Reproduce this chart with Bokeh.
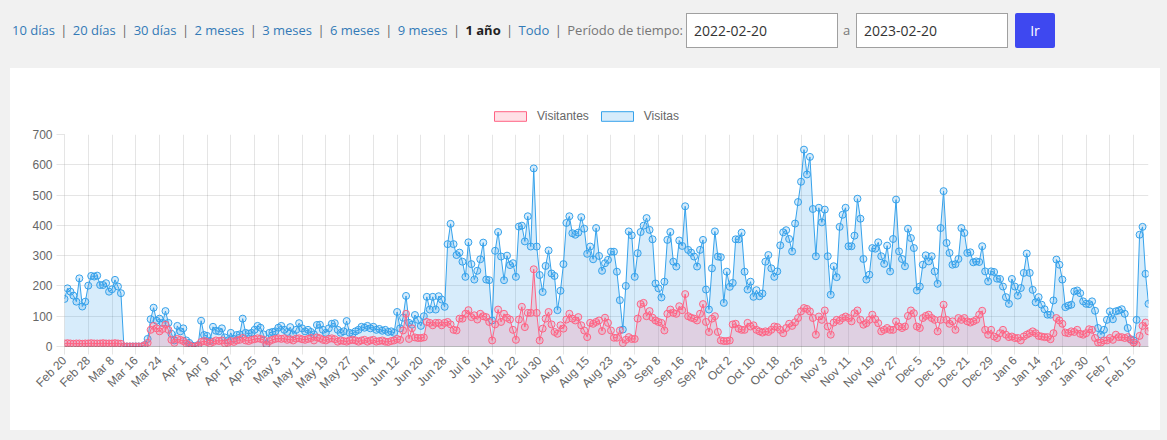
import math
from bokeh.plotting import figure
from bokeh.models import FixedTicker, Legend, LegendItem, Div, ColumnDataSource
from bokeh.layouts import column
from bokeh.embed import file_html
from bokeh.resources import INLINE

# ---------------- data ----------------
tick_labels = ["Feb 20", "Feb 28", "Mar 8", "Mar 16", "Mar 24", "Apr 1", "Apr 9", "Apr 17",
               "Apr 25", "May 3", "May 11", "May 19", "May 27", "Jun 4", "Jun 12", "Jun 20",
               "Jun 28", "Jul 6", "Jul 14", "Jul 22", "Jul 30", "Aug 7", "Aug 15", "Aug 23",
               "Aug 31", "Sep 8", "Sep 16", "Sep 24", "Oct 2", "Oct 10", "Oct 18", "Oct 26",
               "Nov 3", "Nov 11", "Nov 19", "Nov 27", "Dec 5", "Dec 13", "Dec 21", "Dec 29",
               "Jan 6", "Jan 14", "Jan 22", "Jan 30", "Feb 7", "Feb 15"]

visitas = [
    157, 192, 181, 168, 148, 225, 132, 148,
    201, 233, 231, 234, 203, 203, 209, 181,
    189, 220, 198, 176, 0, 0, 0, 0,
    0, 0, 0, 5, 25, 90, 128, 85,
    92, 78, 117, 78, 42, 20, 68, 50,
    60, 20, 12, 3, 0, 5, 85, 38,
    35, 18, 65, 52, 50, 60, 30, 20,
    45, 25, 38, 40, 92, 45, 42, 45,
    55, 68, 62, 40, 8, 45, 48, 50,
    62, 68, 55, 48, 64, 40, 55, 77,
    60, 50, 55, 48, 40, 71, 72, 55,
    45, 60, 75, 77, 55, 45, 50, 84,
    45, 42, 50, 55, 65, 62, 68, 60,
    65, 55, 58, 52, 55, 48, 50, 45,
    114, 60, 95, 167, 78, 72, 104, 88,
    68, 100, 164, 122, 164, 122, 166, 155,
    131, 338, 405, 338, 302, 310, 280, 230,
    344, 272, 221, 250, 288, 343, 221, 219,
    86, 316, 378, 297, 219, 300, 269, 275,
    230, 396, 399, 347, 430, 330, 588, 330,
    236, 180, 266, 317, 241, 233, 120, 184,
    272, 408, 430, 374, 369, 376, 427, 389,
    306, 330, 288, 391, 299, 250, 275, 286,
    313, 313, 247, 153, 56, 200, 380, 367,
    230, 308, 378, 399, 424, 385, 354, 208,
    192, 162, 214, 352, 378, 280, 264, 350,
    332, 463, 319, 310, 297, 264, 319, 352,
    188, 122, 258, 380, 297, 295, 144, 247,
    197, 210, 354, 354, 376, 247, 188, 214,
    164, 186, 166, 175, 280, 302, 258, 230,
    248, 334, 377, 384, 355, 314, 406, 477,
    544, 650, 568, 626, 454, 298, 458, 410,
    452, 298, 171, 265, 229, 395, 435, 458,
    331, 331, 366, 488, 422, 289, 221, 237,
    325, 323, 344, 298, 273, 333, 248, 355,
    485, 314, 289, 265, 389, 358, 325, 185,
    198, 270, 301, 281, 298, 248, 207, 391,
    513, 342, 309, 270, 272, 289, 391, 375,
    309, 311, 278, 281, 279, 331, 248, 215,
    248, 246, 224, 223, 198, 163, 141, 223,
    198, 168, 193, 243, 307, 243, 187, 146,
    163, 138, 123, 105, 105, 152, 287, 270,
    221, 130, 135, 138, 182, 185, 176, 149,
    141, 140, 149, 118, 61, 39, 55, 88,
    116, 90, 116, 119, 123, 108, 61, 24,
    20, 88, 369, 395, 240, 141,
]

visitantes = [
    10, 11, 10, 9, 10, 10, 9, 10,
    10, 11, 10, 10, 10, 11, 10, 10,
    10, 11, 10, 9, 0, 0, 0, 0,
    0, 0, 0, 4, 12, 55, 68, 60,
    50, 58, 72, 55, 22, 12, 25, 22,
    18, 10, 5, 0, 0, 3, 15, 18,
    15, 10, 15, 20, 18, 20, 10, 12,
    18, 15, 20, 22, 28, 20, 18, 22,
    24, 27, 25, 22, 5, 18, 22, 25,
    27, 25, 27, 22, 24, 20, 26, 27,
    24, 22, 25, 28, 20, 30, 27, 22,
    20, 25, 27, 24, 16, 20, 18, 16,
    20, 22, 20, 16, 20, 22, 16, 20,
    22, 16, 18, 20, 16, 15, 18, 20,
    25, 22, 53, 108, 25, 60, 30, 28,
    28, 30, 81, 78, 70, 78, 78, 70,
    78, 81, 73, 55, 53, 92, 92, 108,
    120, 97, 103, 89, 108, 100, 97, 81,
    20, 73, 122, 81, 108, 95, 89, 55,
    22, 89, 131, 64, 111, 111, 255, 111,
    20, 59, 92, 114, 73, 48, 42, 70,
    59, 89, 108, 92, 86, 97, 70, 53,
    31, 78, 75, 81, 86, 51, 95, 78,
    53, 29, 29, 53, 11, 22, 31, 25,
    25, 92, 140, 144, 100, 117, 95, 86,
    81, 78, 53, 108, 122, 111, 108, 133,
    120, 173, 100, 95, 92, 86, 108, 140,
    81, 48, 92, 100, 48, 20, 18, 18,
    20, 73, 75, 59, 55, 55, 78, 66,
    70, 55, 50, 46, 50, 48, 55, 66,
    64, 55, 44, 61, 75, 68, 80, 94,
    116, 127, 124, 116, 94, 39, 99, 88,
    119, 66, 39, 79, 88, 85, 94, 99,
    94, 83, 110, 119, 88, 72, 77, 88,
    105, 90, 77, 50, 55, 61, 55, 55,
    83, 66, 61, 66, 101, 119, 110, 66,
    61, 94, 101, 105, 94, 88, 50, 88,
    138, 88, 75, 83, 55, 94, 88, 94,
    83, 79, 83, 88, 105, 118, 55, 39,
    55, 33, 28, 44, 55, 39, 31, 33,
    28, 28, 20, 33, 39, 44, 50, 44,
    35, 33, 31, 31, 24, 44, 94, 86,
    75, 46, 44, 50, 48, 55, 42, 39,
    44, 57, 55, 28, 13, 13, 20, 20,
    28, 22, 39, 31, 31, 28, 31, 22,
    13, 6, 35, 68, 79, 50,
]

series_names = ["Visitantes", "Visitas"]

n = len(visitas)
assert n == 366 and len(visitantes) == 366
idx = list(range(n))
src = ColumnDataSource(dict(x=idx, visitas=visitas, visitantes=visitantes, zero=[0] * n))

BLUE = (54, 162, 235)
PINK = (255, 99, 132)
BLUE_F = (54, 162, 235, 0.2)
PINK_F = (255, 99, 132, 0.2)
GRID = (0, 0, 0, 0.1)
FONT = "Liberation Sans"
BG = "#f1f1f1"

# ---------------- header ----------------
links = ["10 días", "20 días", "30 días", "2 meses", "3 meses", "6 meses", "9 meses", "1 año", "Todo"]
parts = []
for lab in links:
    if lab == "1 año":
        parts.append('<span style="color:#222;font-weight:bold;">%s</span>' % lab)
    else:
        parts.append('<span style="color:#337ab7;">%s</span>' % lab)
sep = '<span style="color:#666;margin:0 2px;"> | </span>'
links_html = sep.join(parts) + sep + '<span style="color:#777;">Período de tiempo:</span>'

box_css = ("position:absolute;top:13px;height:35px;width:152px;border:1px solid #a0a0a0;background:#fff;"
           "font-size:14px;line-height:33px;color:#333;padding-left:7px;box-sizing:border-box;")
header_html = (
    '<div style="position:relative;width:1167px;height:68px;font-family:\'Open Sans\';font-size:13px;">'
    '<div style="position:absolute;left:12px;top:13px;height:35px;line-height:35px;white-space:nowrap;">%s</div>'
    '<div style="%sleft:686px;">2022-02-20</div>'
    '<div style="position:absolute;left:843px;top:13px;height:35px;line-height:35px;color:#777;">a</div>'
    '<div style="%sleft:856px;">2023-02-20</div>'
    '<div style="position:absolute;left:1015px;top:13px;width:40px;height:35px;line-height:35px;'
    'background:#3e48f0;color:#fff;text-align:center;font-size:14px;border-radius:2px;">Ir</div>'
    '</div>' % (links_html, box_css, box_css)
)
header = Div(text=header_html, width=1167, height=68,
             styles={"background-color": BG, "margin": "0", "padding": "0"})

# ---------------- legend row ----------------
lf = figure(width=1150, height=56, x_range=(0, 1), y_range=(0, 1),
            x_axis_type=None, y_axis_type=None, output_backend="svg", toolbar_location=None,
            min_border=0, margin=(0, 7, 0, 10), styles={"background-color": "white"})
lf.outline_line_color = None
lf.background_fill_color = "white"
lf.border_fill_color = "white"
# proxy glyphs placed outside the visible range (only used for the legend swatches)
lg_src = ColumnDataSource(dict(l=[5], r=[6], b=[5], t=[6]))
q_pink = lf.quad(left="l", right="r", bottom="b", top="t", source=lg_src,
                 fill_color=PINK_F, line_color=PINK, line_width=1)
q_blue = lf.quad(left="l", right="r", bottom="b", top="t", source=lg_src,
                 fill_color=BLUE_F, line_color=BLUE, line_width=1)
legend = Legend(items=[LegendItem(label=series_names[0], renderers=[q_pink]),
                       LegendItem(label=series_names[1], renderers=[q_blue])],
                orientation="horizontal", location=(426, 1),
                glyph_width=40, glyph_height=12, label_height=12,
                label_standoff=7, spacing=8, padding=0, margin=0,
                label_text_font=FONT, label_text_font_size="12px",
                label_text_color="#666666",
                border_line_color=None, background_fill_alpha=0)
lf.add_layout(legend, "center")

# ---------------- chart ----------------
p = figure(width=1150, height=306, x_range=(0, n - 1), y_range=(0, 700),
           output_backend="svg", toolbar_location=None,
           min_border_left=54, min_border_right=12, min_border_top=10, min_border_bottom=84,
           margin=(0, 7, 10, 10), styles={"background-color": "white"})
p.outline_line_color = None
p.background_fill_color = "white"
p.border_fill_color = "white"

ticks = list(range(0, n, 8))
p.xaxis.ticker = FixedTicker(ticks=ticks)
p.xaxis.major_label_overrides = {t: lab for t, lab in zip(ticks, tick_labels)}
p.xaxis.major_label_orientation = math.pi / 4
p.yaxis.ticker = FixedTicker(ticks=list(range(0, 701, 100)))

for ax in (p.xaxis, p.yaxis):
    ax.major_label_text_font = FONT
    ax.major_label_text_font_size = "12px"
    ax.major_label_text_color = "#666666"
    ax.major_tick_in = 0
    ax.major_tick_out = 8
    ax.major_tick_line_color = GRID
    ax.minor_tick_line_color = None
    ax.axis_line_color = GRID
    ax.major_label_standoff = 4
p.xaxis.axis_line_color = (0, 0, 0, 0.25)

p.xgrid.grid_line_color = GRID
p.ygrid.grid_line_color = GRID

# Visitas (drawn below)
p.varea(x="x", y1="zero", y2="visitas", source=src, fill_color=BLUE_F)
p.line(x="x", y="visitas", source=src, line_color=BLUE, line_width=1)
p.scatter(x="x", y="visitas", source=src, marker="circle", size=7,
          fill_color=BLUE_F, line_color=BLUE, line_width=1)

# Visitantes (drawn on top)
p.varea(x="x", y1="zero", y2="visitantes", source=src, fill_color=PINK_F)
p.line(x="x", y="visitantes", source=src, line_color=PINK, line_width=1)
p.scatter(x="x", y="visitantes", source=src, marker="circle", size=7,
          fill_color=PINK_F, line_color=PINK, line_width=1)

layout = column(header, lf, p, spacing=0, styles={"background-color": BG})
open("out.html", "w").write(file_html(layout, INLINE))
